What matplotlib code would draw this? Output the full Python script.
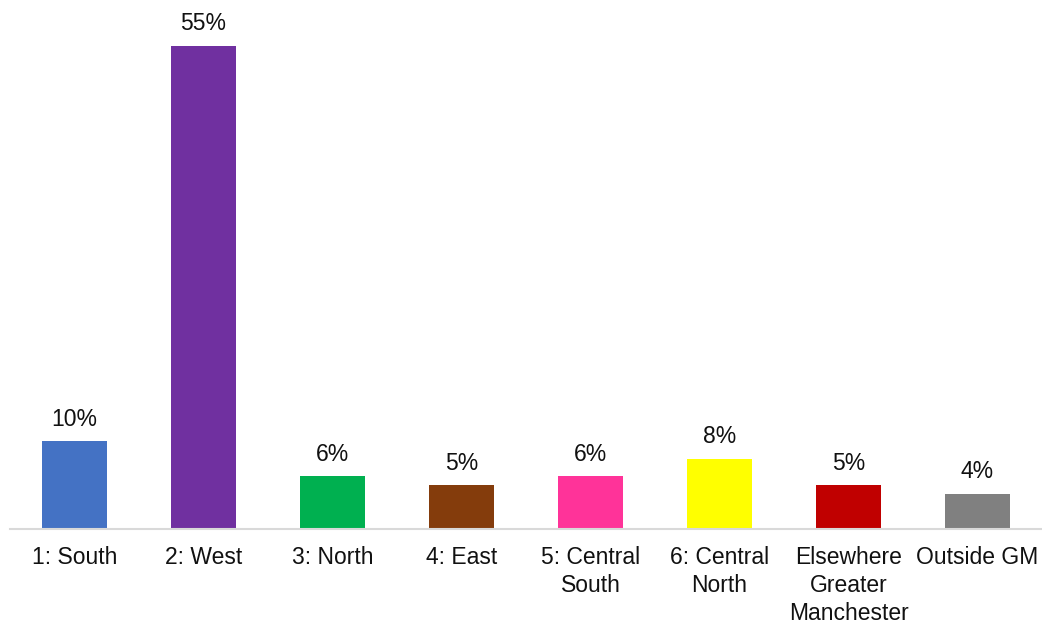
import matplotlib.pyplot as plt

plt.rcParams['font.family'] = ['Liberation Sans', 'DejaVu Sans']

# categories and values (percent)
categories = ['1: South', '2: West', '3: North', '4: East', '5: Central\nSouth',
              '6: Central\nNorth', 'Elsewhere\nGreater\nManchester', 'Outside GM']
values = [10, 55, 6, 5, 6, 8, 5, 4]
colors = ['#4472C4', '#7030A0', '#00B050', '#843C0C', '#FF3399',
          '#FFFF00', '#C00000', '#808080']

fig = plt.figure(figsize=(10.42, 6.25), dpi=100)
ax = fig.add_axes([0.0096, 0.1536, 0.9904, 0.8432])

x = range(len(categories))
bars = ax.bar(x, values, width=0.5, color=colors)

for b, v in zip(bars, values):
    ax.text(b.get_x() + b.get_width() / 2, v + 1.2, f'{v}%',
            ha='center', va='bottom', fontsize=16.5, color='#111111')

ax.set_xlim(-0.5, len(categories) - 0.5)
ax.set_ylim(0, 60)
ax.set_xticks(list(x))
ax.set_xticklabels(categories, fontsize=16.5, color='#111111', linespacing=1.3)
ax.tick_params(axis='x', length=0, pad=12)
ax.set_yticks([])

for s in ['top', 'right', 'left']:
    ax.spines[s].set_visible(False)
ax.spines['bottom'].set_color('#D9D9D9')
ax.spines['bottom'].set_linewidth(1.5)

fig.savefig('out.png', dpi=100)
